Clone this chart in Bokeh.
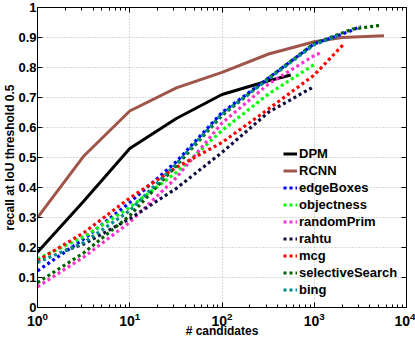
from bokeh.plotting import figure
from bokeh.models import Range1d, FixedTicker, LogAxis, LinearAxis, Legend, LegendItem
from bokeh.embed import file_html
from bokeh.resources import INLINE

# ---- data ----
x_dpm = [1, 3.2, 10, 32, 100, 320, 556]
y_dpm = [0.184, 0.356, 0.53, 0.63, 0.71, 0.756, 0.775]

x_rcnn = [1, 3.2, 10, 32, 100, 320, 1000, 2000, 5700]
y_rcnn = [0.30, 0.506, 0.655, 0.732, 0.784, 0.845, 0.886, 0.90, 0.906]

x_edge = [1, 3.2, 10, 32, 100, 320, 1000, 2300, 3200]
y_edge = [0.122, 0.229, 0.35, 0.486, 0.65, 0.765, 0.879, 0.918, 0.937]

x_obj = [1, 3.2, 10, 32, 100, 320, 1000]
y_obj = [0.162, 0.236, 0.334, 0.45, 0.59, 0.712, 0.81]

x_rprim = [1, 3.2, 10, 32, 100, 320, 1000, 1200]
y_rprim = [0.069, 0.169, 0.284, 0.433, 0.615, 0.745, 0.84, 0.85]

x_rahtu = [2, 3.2, 10, 32, 100, 320, 1000]
y_rahtu = [0.19, 0.212, 0.296, 0.397, 0.517, 0.651, 0.737]

x_mcg = [1, 3.2, 10, 32, 100, 320, 1000, 2100]
y_mcg = [0.156, 0.25, 0.365, 0.467, 0.55, 0.662, 0.775, 0.879]

x_ss = [1, 3.2, 10, 32, 100, 320, 1000, 2600, 5300]
y_ss = [0.083, 0.183, 0.306, 0.473, 0.64, 0.765, 0.88, 0.928, 0.941]

x_bing = [1, 3.2, 10, 32, 100, 320, 1000, 1800]
y_bing = [0.150, 0.217, 0.323, 0.479, 0.645, 0.762, 0.876, 0.906]

x_major = [1, 10, 100, 1000, 10000]
x_minor = [m * d for d in [1, 10, 100, 1000] for m in range(2, 10)]
y_major = [0, 0.1, 0.2, 0.3, 0.4, 0.5, 0.6, 0.7, 0.8, 0.9, 1.0]

FONT = "Liberation Sans"

p = figure(width=415, height=340, x_axis_type="log",
           x_range=Range1d(1, 10000), y_range=Range1d(0, 1),
           output_backend="svg", toolbar_location=None,
           min_border_left=36, min_border_right=9, min_border_top=7,
           min_border_bottom=33)
p.background_fill_color = "white"
p.border_fill_color = "white"
p.outline_line_color = "black"

xt = FixedTicker(ticks=x_major, minor_ticks=x_minor)
yt = FixedTicker(ticks=y_major)

p.xaxis.ticker = xt
p.yaxis.ticker = yt
p.xgrid.ticker = FixedTicker(ticks=x_major)
p.ygrid.ticker = yt
for g in (p.xgrid, p.ygrid):
    g.grid_line_color = "#b4b4b4"
    g.grid_line_dash = "1 2"
    g.grid_line_width = 1

def style_axis(ax):
    ax.axis_line_color = "black"
    ax.major_tick_in = 5
    ax.major_tick_out = 0
    ax.minor_tick_in = 3
    ax.minor_tick_out = 0
    ax.major_tick_line_color = "black"
    ax.minor_tick_line_color = "black"
    ax.major_label_text_font = FONT
    ax.major_label_text_font_style = "bold"
    ax.major_label_text_color = "black"
    ax.major_label_text_font_size = "13px"
    ax.major_label_standoff = 2
    ax.axis_label_text_font = FONT
    ax.axis_label_text_font_style = "bold"
    ax.axis_label_text_font_size = "12px"
    ax.axis_label_text_color = "black"
    ax.axis_label_standoff = 0

for ax in p.xaxis:
    style_axis(ax)
    ax.major_label_text_font_size = "14px"
    ax.major_label_standoff = 4
    ax.axis_label_standoff = -5
for ax in p.yaxis:
    style_axis(ax)
    ax.minor_tick_line_color = None
    ax.major_label_standoff = 1
    ax.axis_label_standoff = -2

p.xaxis.axis_label = "# candidates"
p.yaxis.axis_label = "recall at IoU threshold 0.5"

top = LogAxis(ticker=xt, major_label_overrides={t: "" for t in x_major})
style_axis(top)
top.major_label_standoff = 0
top.major_label_text_font_size = "1px"
p.add_layout(top, "above")
right = LinearAxis(ticker=yt, major_label_overrides={t: "" for t in y_major})
style_axis(right)
right.major_label_standoff = 0
right.major_label_text_font_size = "1px"
right.minor_tick_line_color = None
p.add_layout(right, "right")

solid = [("DPM", x_dpm, y_dpm, "black"),
         ("RCNN", x_rcnn, y_rcnn, "#a0554b")]
dotted = [("edgeBoxes", x_edge, y_edge, "#0000ff"),
          ("objectness", x_obj, y_obj, "#00ff00"),
          ("randomPrim", x_rprim, y_rprim, "#ff33cc"),
          ("rahtu", x_rahtu, y_rahtu, "#101040"),
          ("mcg", x_mcg, y_mcg, "#ff0000"),
          ("selectiveSearch", x_ss, y_ss, "#006000"),
          ("bing", x_bing, y_bing, "#008b8b")]

items = []
for name, xs, ys, c in solid:
    r = p.line(xs, ys, line_color=c, line_width=3)
    items.append(LegendItem(label=name, renderers=[r]))
for name, xs, ys, c in dotted:
    r = p.line(xs, ys, line_color=c, line_width=3.2, line_dash="3 3")
    items.append(LegendItem(label=name, renderers=[r]))

legend = Legend(items=items, location=(246, 9))
legend.padding = 0
legend.margin = 0
legend.spacing = 0
legend.glyph_width = 14
legend.glyph_height = 17
legend.label_height = 17
legend.label_standoff = 2
legend.border_line_alpha = 0
legend.background_fill_alpha = 0
legend.label_text_font = FONT
legend.label_text_font_style = "bold"
legend.label_text_font_size = "13px"
legend.label_text_color = "black"
p.add_layout(legend)

open("out.html", "w").write(file_html(p, INLINE))
